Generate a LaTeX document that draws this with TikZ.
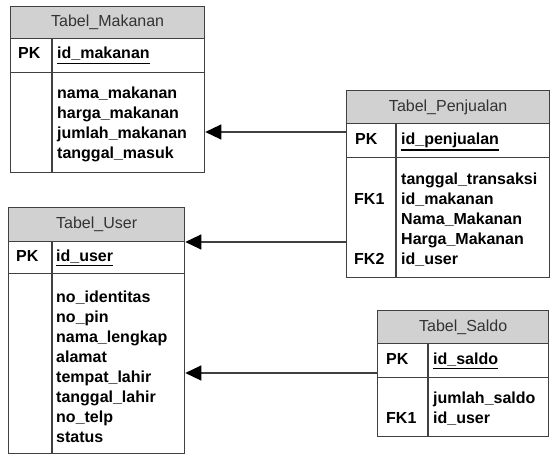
\documentclass[tikz,border=0pt]{standalone}
\usepackage{fontspec}
\setmainfont{Liberation Sans}
\usetikzlibrary{arrows.meta}

\newcommand{\pkfield}[1]{\vtop{\hbox{#1}\kern2pt\hrule height 1.2pt}}

\tikzset{
  tblframe/.style={draw=black!75, line width=1.3pt},
  tblhead/.style={tblframe, fill=black!18, text=black!80, anchor=north west, inner sep=0pt,
    text height=11pt, text depth=3pt, font=\fontsize{16}{20}\selectfont},
  tblrow/.style={tblframe, anchor=north west, inner sep=0pt},
  fieldtxt/.style={anchor=west, inner sep=0pt, text height=11pt, text depth=3pt,
    font=\fontsize{16}{20}\selectfont\bfseries},
  fkline/.style={draw=black!75, line width=1.2pt,
    -{Triangle[length=16pt,width=15pt,color=black]}},
}

\begin{document}
\begin{tikzpicture}[x=1pt, y=-1pt]
  \useasboundingbox (0,0) rectangle (550,455);
  % Tabel_Makanan, top left.
  \node[tblhead, minimum width=194pt, minimum height=32pt] (makanan) at (10,6) {Tabel\_Makanan};
  \node[tblrow, minimum width=194pt, minimum height=34pt] (makanan-pk) at (10,38) {};
  \node[tblrow, minimum width=194pt, minimum height=100pt] (makanan-body) at (10,72) {};
  \draw[tblframe] (52,38) -- (52,172);
  \node[fieldtxt] (makanan-key) at (18,55) {PK};
  \node[fieldtxt] (makanan-id) at (57,55) {\pkfield{id\_makanan}};
  \foreach \attr [count=\i from 0] in {nama\_makanan, harga\_makanan, jumlah\_makanan, tanggal\_masuk}
    \node[fieldtxt] (makanan-a\i) at (57,94+20*\i) {\attr};
  % Tabel_Penjualan, right.
  \node[tblhead, minimum width=203pt, minimum height=33pt] (penjualan) at (346,90) {Tabel\_Penjualan};
  \node[tblrow, minimum width=203pt, minimum height=34pt] (penjualan-pk) at (346,123) {};
  \node[tblrow, minimum width=203pt, minimum height=120pt] (penjualan-body) at (346,157) {};
  \draw[tblframe] (396,123) -- (396,277);
  \node[fieldtxt] (penjualan-key) at (355,140) {PK};
  \node[fieldtxt] (penjualan-id) at (401,140) {\pkfield{id\_penjualan}};
  \node[fieldtxt] (penjualan-fk1txt) at (354,200) {FK1};
  \node[fieldtxt] (penjualan-fk2txt) at (354,260) {FK2};
  \foreach \attr [count=\i from 0] in {tanggal\_transaksi, id\_makanan, Nama\_Makanan, Harga\_Makanan, id\_user}
    \node[fieldtxt] (penjualan-a\i) at (401,180+20*\i) {\attr};
  % Tabel_User, bottom left.
  \node[tblhead, minimum width=176pt, minimum height=34pt] (user) at (8,207) {Tabel\_User};
  \node[tblrow, minimum width=176pt, minimum height=32pt] (user-pk) at (8,241) {};
  \node[tblrow, minimum width=176pt, minimum height=180pt] (user-body) at (8,273) {};
  \draw[tblframe] (52,241) -- (52,453);
  \node[fieldtxt] (user-key) at (16,257) {PK};
  \node[fieldtxt] (user-id) at (56,257) {\pkfield{id\_user}};
  \foreach \attr [count=\i from 0] in {no\_identitas, no\_pin, nama\_lengkap, alamat,
      tempat\_lahir, tanggal\_lahir, no\_telp, status}
    \node[fieldtxt] (user-a\i) at (56,298+20*\i) {\attr};
  % Tabel_Saldo, bottom right.
  \node[tblhead, minimum width=171pt, minimum height=33pt] (saldo) at (377,310) {Tabel\_Saldo};
  \node[tblrow, minimum width=171pt, minimum height=34pt] (saldo-pk) at (377,343) {};
  \node[tblrow, minimum width=171pt, minimum height=59pt] (saldo-body) at (377,377) {};
  \draw[tblframe] (428,343) -- (428,436);
  \node[fieldtxt] (saldo-key) at (386,360) {PK};
  \node[fieldtxt] (saldo-id) at (433,360) {\pkfield{id\_saldo}};
  \node[fieldtxt] (saldo-fk1txt) at (386,419) {FK1};
  \foreach \attr [count=\i from 0] in {jumlah\_saldo, id\_user}
    \node[fieldtxt] (saldo-a\i) at (433,399+20*\i) {\attr};
  % Foreign key connectors.
  \coordinate (penjualan-fk1) at (346,132);
  \coordinate (penjualan-fk2) at (346,242);
  \coordinate (saldo-fk1) at (377,373);
  \draw[fkline] (penjualan-fk1) -- (makanan-body.east |- penjualan-fk1);
  \draw[fkline] (penjualan-fk2) -- (user-body.east |- penjualan-fk2);
  \draw[fkline] (saldo-fk1) -- (user-body.east |- saldo-fk1);
\end{tikzpicture}
\end{document}
